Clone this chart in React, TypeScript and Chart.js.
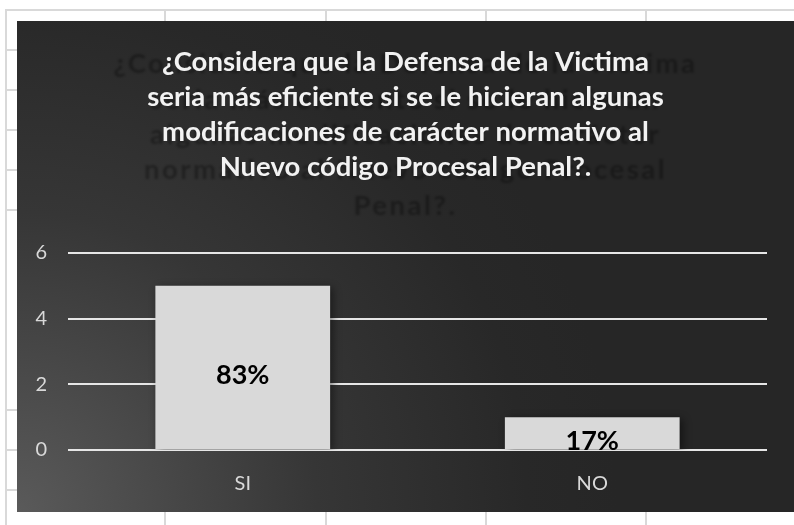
import React, { useEffect, useRef } from 'react';
import { Chart, registerables } from 'chart.js';

Chart.register(...registerables);

// ---- data ----
const categories = ['SI', 'NO'];
const counts = [5, 1];
const percentLabels = ['83%', '17%'];
const yMin = 0;
const yMax = 6;
const yStep = 2;
const titleLines = [
  '¿Considera que la Defensa de la Victima',
  'seria más eficiente si se le hicieran algunas',
  'modificaciones de carácter normativo al',
  'Nuevo código Procesal Penal?.',
];
const ghostTitleLines = [
  '¿Considera que la Defensa de la Victima',
  'seria más eficiente si se le hicieran',
  'algunas modificaciones de carácter',
  'normativo al Nuevo código Procesal',
  'Penal?.',
];

// ---- layout / style ----
const W = 794;
const H = 525;
const FRAME = { left: 17, top: 21, right: 794, bottom: 512 };
const SHEET_ROWS = [10, 50, 90, 130, 170, 210, 410, 450, 490];
const SHEET_COLS = [6, 165, 326, 486, 646];
const FONT = 'Lato, "Open Sans", sans-serif';
const TITLE_SIZE = 27.5;
const TITLE_LH = 35;

const backgroundPlugin = {
  id: 'sheetBackground',
  beforeDraw(chart: any) {
    const ctx = chart.ctx as CanvasRenderingContext2D;
    ctx.save();
    ctx.fillStyle = '#ffffff';
    ctx.fillRect(0, 0, chart.width, chart.height);
    ctx.strokeStyle = '#d9d9d9';
    ctx.lineWidth = 2;
    ctx.beginPath();
    for (const y of SHEET_ROWS) {
      ctx.moveTo(5, y);
      ctx.lineTo(chart.width, y);
    }
    for (const x of SHEET_COLS) {
      ctx.moveTo(x, 9);
      ctx.lineTo(x, chart.height);
    }
    ctx.stroke();

    const g = ctx.createRadialGradient(FRAME.left, FRAME.bottom, 0, FRAME.left, FRAME.bottom, 600);
    g.addColorStop(0, '#5a5a5a');
    g.addColorStop(0.5, '#363636');
    g.addColorStop(0.85, '#282828');
    g.addColorStop(1, '#262626');
    ctx.fillStyle = g;
    ctx.fillRect(FRAME.left, FRAME.top, FRAME.right - FRAME.left, FRAME.bottom - FRAME.top);

    // ghost (shadow) copy of the title
    const tb = chart.titleBlock;
    const firstY = tb ? tb.top + 24 + TITLE_LH / 2 + 2 : 64;
    ctx.font = `bold ${TITLE_SIZE}px ${FONT}`;
    (ctx as any).letterSpacing = '2.5px';
    ctx.fillStyle = 'rgba(0,0,0,0.32)';
    ctx.filter = 'blur(1.2px)';
    ctx.textAlign = 'center';
    ctx.textBaseline = 'middle';
    const cx = (FRAME.left + FRAME.right) / 2;
    ghostTitleLines.forEach((line, i) => {
      ctx.fillText(line, cx, firstY + i * 35.3);
    });
    ctx.restore();
  },
};

const barDecorPlugin = {
  id: 'barDecor',
  beforeDatasetsDraw(chart: any) {
    const ctx = chart.ctx as CanvasRenderingContext2D;
    ctx.save();
    ctx.shadowColor = 'rgba(0,0,0,0.45)';
    ctx.shadowBlur = 8;
    ctx.shadowOffsetX = 3;
    ctx.shadowOffsetY = 2;
  },
  afterDatasetsDraw(chart: any) {
    const ctx = chart.ctx as CanvasRenderingContext2D;
    ctx.restore();
    ctx.save();
    const meta = chart.getDatasetMeta(0);
    ctx.font = `bold 27px ${FONT}`;
    ctx.fillStyle = '#000000';
    ctx.textAlign = 'center';
    ctx.textBaseline = 'alphabetic';
    meta.data.forEach((el: any, i: number) => {
      const mid = (el.y + el.base) / 2;
      ctx.fillText(percentLabels[i], el.x, mid + 17);
    });
    ctx.restore();
  },
};

export default function App() {
  const ref = useRef<HTMLCanvasElement | null>(null);

  useEffect(() => {
    if (!ref.current) return;
    const chart = new Chart(ref.current, {
      type: 'bar',
      data: {
        labels: categories,
        datasets: [
          {
            data: counts,
            backgroundColor: '#d9d9d9',
            borderWidth: 0,
            barPercentage: 1,
            categoryPercentage: 0.5,
            yAxisID: 'y',
          },
        ],
      },
      plugins: [backgroundPlugin, barDecorPlugin],
      options: {
        responsive: false,
        animation: false,
        devicePixelRatio: 1,
        layout: { padding: { left: FRAME.left, top: FRAME.top, right: 0, bottom: H - FRAME.bottom } },
        plugins: {
          legend: { display: false },
          tooltip: { enabled: false },
          title: {
            display: true,
            text: titleLines,
            color: '#f2f2f2',
            font: { family: FONT, size: TITLE_SIZE, weight: 'bold', lineHeight: `${TITLE_LH}px` },
            padding: { top: 24, bottom: 68 },
          },
        },
        scales: {
          x: {
            grid: { display: false },
            border: { display: false },
            ticks: {
              color: '#d9d9d9',
              font: { family: FONT, size: 20 },
              padding: 14,
            },
            afterFit: (s: any) => {
              s.height = FRAME.bottom - 450;
            },
          },
          y: {
            min: yMin,
            max: yMax,
            grid: { color: '#e6e6e6', lineWidth: 2, drawTicks: false },
            border: { display: false },
            ticks: {
              stepSize: yStep,
              color: '#d9d9d9',
              font: { family: FONT, size: 20 },
              padding: 21,
            },
            afterFit: (s: any) => {
              s.width = 68 - FRAME.left;
            },
          },
          y2: {
            type: 'linear',
            position: 'right',
            grid: { display: false },
            border: { display: false },
            ticks: { display: false },
            afterFit: (s: any) => {
              s.width = W - 767;
            },
          },
        },
      },
    });
    return () => chart.destroy();
  }, []);

  return (
    <div style={{ position: 'absolute', left: 0, top: 0, width: W, height: H }}>
      <canvas ref={ref} width={W} height={H} />
    </div>
  );
}
